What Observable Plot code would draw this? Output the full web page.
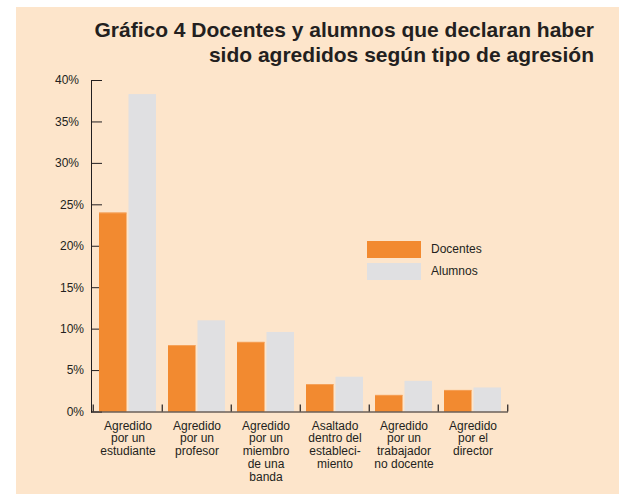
<!DOCTYPE html>
<html>
<head>
<meta charset="utf-8">
<script src="https://cdn.jsdelivr.net/npm/d3@7"></script>
<script src="https://cdn.jsdelivr.net/npm/@observablehq/plot@0.6"></script>
<style>
  html, body { margin: 0; padding: 0; background: #ffffff; }
  body { width: 619px; height: 494px; position: relative; overflow: hidden; font-family: "Liberation Sans", Arial, sans-serif; }
  #panel { position: absolute; left: 16px; top: 7px; width: 603px; height: 487px; background: #FDE5CB; }
  #title { position: absolute; right: 25px; top: 10px; text-align: right; font-weight: bold; font-size: 21px; line-height: 25px; color: #231F20; white-space: nowrap; }
  #chart { position: absolute; left: 0; top: 63px; }
  #legend { position: absolute; left: 351px; top: 231px; font-size: 12px; color: #231F20; }
  .item { display: flex; align-items: center; height: 22px; }
  .sw { width: 54px; height: 17px; margin-right: 10px; }
</style>
</head>
<body>
<div id="panel">
  <div id="title">Gráfico 4 Docentes y alumnos que declaran haber<br>sido agredidos según tipo de agresión</div>
  <div id="chart"></div>
  <div id="legend"></div>
</div>
<script>
const categories = [
  "Agredido\npor un\nestudiante",
  "Agredido\npor un\nprofesor",
  "Agredido\npor un\nmiembro\nde una\nbanda",
  "Asaltado\ndentro del\nestableci-\nmiento",
  "Agredido\npor un\ntrabajador\nno docente",
  "Agredido\npor el\ndirector"
];
const series = ["Docentes", "Alumnos"];
const docentes = [24.0, 8.0, 8.4, 3.3, 2.0, 2.6];
const alumnos = [38.3, 11.0, 9.6, 4.2, 3.7, 2.9];
const yTicksLow = [0, 5, 10, 15, 20, 25];
const yTicksHigh = [30, 35, 40];
const colors = ["#F28A30", "#E0E0E2"];

const ink = "#231F20";
const W = 603, H = 424, ml = 75, mr = 111, mt = 10, mb = 82.5;
const step = (W - ml - mr) / categories.length;
const barW = 28, gap = 1.5;
const outer = (step - 2 * barW - gap) / 2;
const tickLen = 0.85; // in % units (short upward tick)

const docData = categories.map((c, i) => ({cat: c, value: docentes[i]}));
const aluData = categories.map((c, i) => ({cat: c, value: alumnos[i]}));

const chart = Plot.plot({
  width: W,
  height: H,
  marginLeft: ml,
  marginRight: mr,
  marginTop: mt,
  marginBottom: mb,
  style: {background: "transparent", fontFamily: "'Liberation Sans', Arial, sans-serif", fontSize: "12px", color: ink},
  x: {domain: categories, padding: 0, axis: null},
  y: {domain: [0, 40], ticks: [...yTicksLow, ...yTicksHigh], tickSize: -11, tickPadding: 0, tickFormat: () => "", line: true, label: null},
  marks: [
    Plot.barY(docData, {x: "cat", y: "value", fill: colors[0], insetLeft: outer, insetRight: outer + barW + gap}),
    Plot.barY(docData, {x: "cat", y1: d => d.value - 0.1, y2: "value", fill: "#F6A45E", insetLeft: outer, insetRight: outer + barW + gap}),
    Plot.barY(aluData, {x: "cat", y: "value", fill: colors[1], insetLeft: outer + barW + gap, insetRight: outer}),
    Plot.ruleY([0], {stroke: ink, strokeWidth: 1.2}),
    Plot.ruleX(categories, {x: d => d, y1: 0, y2: tickLen, dx: -step / 2, stroke: ink, strokeWidth: 1.2}),
    Plot.ruleX(categories.slice(-1), {x: d => d, y1: 0, y2: tickLen, dx: step / 2, stroke: ink, strokeWidth: 1.2}),
    Plot.text(yTicksLow, {y: d => d, text: d => d + "%", frameAnchor: "left", textAnchor: "end", dx: -7.5, fill: ink, fontSize: 12}),
    Plot.text(yTicksHigh, {y: d => d, text: d => d + "%", frameAnchor: "left", textAnchor: "end", dx: -12.5, fill: ink, fontSize: 12}),
    Plot.text(categories, {x: d => d, text: d => d, frameAnchor: "bottom", lineAnchor: "top", dy: 8.5, lineHeight: 1.07, fill: ink, fontSize: 12})
  ]
});
document.getElementById("chart").appendChild(chart);

const legend = document.getElementById("legend");
series.forEach((s, i) => {
  const item = document.createElement("div");
  item.className = "item";
  const sw = document.createElement("div");
  sw.className = "sw";
  sw.style.background = colors[i];
  const t = document.createElement("span");
  t.textContent = s;
  item.appendChild(sw);
  item.appendChild(t);
  legend.appendChild(item);
});
</script>
</body>
</html>
